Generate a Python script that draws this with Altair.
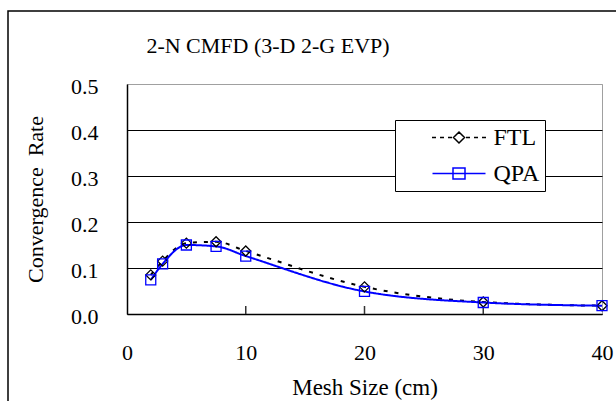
import altair as alt
import pandas as pd

# Convergence rate of two-node CMFD versus mesh size
mesh_size = [2, 3, 5, 7.5, 10, 20, 30, 40]
ftl_rate = [0.085, 0.115, 0.154, 0.157, 0.137, 0.059, 0.026, 0.018]
qpa_rate = [0.074, 0.109, 0.150, 0.147, 0.126, 0.049, 0.025, 0.018]
series_names = ["FTL", "QPA"]
series_colors = ["#000000", "#0000ff"]
x_ticks = [0, 10, 20, 30, 40]
y_ticks = [0.0, 0.1, 0.2, 0.3, 0.4, 0.5]
inner_ticks = [10, 20, 30]

rows = []
for name, vals in zip(series_names, [ftl_rate, qpa_rate]):
    for m, v in zip(mesh_size, vals):
        rows.append({"series": name, "mesh": m, "rate": v})
df = pd.DataFrame(rows)

FONT = "Liberation Serif"
W, H = 475, 230

x_scale = alt.Scale(domain=[0, 40], nice=False)
y_scale = alt.Scale(domain=[0, 0.5], nice=False)
color_scale = alt.Scale(domain=series_names, range=series_colors)

# legend glyphs: dashed line through a diamond, solid line through a square
ftl_glyph = ("M-2.7,0H-2.3M-1.9,0H-1.5M-1.1,0H-0.7M0.7,0H1.1M1.5,0H1.9M2.3,0H2.7"
             "M-0.55,0L0,-0.55L0.55,0L0,0.55Z")
qpa_glyph = "M-2.65,0H2.65M-0.6,-0.55H0.6V0.55H-0.6Z"

x_axis = alt.Axis(
    values=x_ticks, ticks=False, tickSize=0, grid=False,
    labelPadding=38, labelBaseline="middle", labelFlush=False, labelOverlap=False,
    labelFont=FONT, labelFontSize=22, labelColor="black",
    domainColor="black", domainWidth=1.5,
    title="Mesh Size (cm)", titleFont=FONT, titleFontSize=23, titleFontWeight="normal",
    titleColor="black", titleX=W / 2, titleY=73, titleBaseline="middle", titleAlign="center",
)
y_axis = alt.Axis(
    values=y_ticks, format=".1f", ticks=False, tickSize=0,
    grid=True, gridWidth=1,
    gridColor={"condition": {"test": "datum.value >= 0.5", "value": "#a0a0a0"}, "value": "black"},
    labelPadding=29, labelBaseline="middle", labelOffset=2,
    labelFont=FONT, labelFontSize=22, labelColor="black",
    domainColor="black", domainWidth=1.5,
    title="Convergence\u00a0\u00a0Rate", titleFont=FONT, titleFontSize=22, titleFontWeight="normal",
    titleColor="black", titleAngle=270, titleX=-92, titleY=H / 2,
    titleBaseline="middle", titleAlign="center",
)

x_enc = alt.X("mesh:Q", scale=x_scale, axis=x_axis)
y_enc = alt.Y("rate:Q", scale=y_scale, axis=y_axis)

legend = alt.Legend(
    title=None, orient="none", legendX=268, legendY=36,
    padding=5.5, rowPadding=12, strokeColor="black", fillColor="white",
    symbolSize=400, symbolOffset=46.5, labelOffset=22.5, symbolStrokeWidth=1.5,
    labelFont=FONT, labelFontSize=24, labelColor="black",
    labelExpr="datum.label + '        '",
)

lines = alt.Chart(df).mark_line(interpolate="monotone", strokeWidth=2).encode(
    x=x_enc,
    y=y_enc,
    color=alt.Color("series:N", scale=color_scale, legend=None),
    strokeDash=alt.StrokeDash("series:N",
                              scale=alt.Scale(domain=series_names, range=[[4, 7], [1, 0]]),
                              legend=None),
)

points = alt.Chart(df).mark_point(filled=False, size=100, strokeWidth=1.3, opacity=1).encode(
    x=x_enc,
    y=y_enc,
    color=alt.Color("series:N", scale=color_scale, legend=None),
    shape=alt.Shape("series:N", scale=alt.Scale(domain=series_names, range=["diamond", "square"]),
                    legend=None),
)

# key layer: carries only the legend (line + marker glyph per series)
key = alt.Chart(df).transform_filter("false").mark_point(
    filled=False, strokeWidth=1.5, opacity=1
).encode(
    x=alt.X("mesh:Q", scale=x_scale),
    y=alt.Y("rate:Q", scale=y_scale),
    color=alt.Color("series:N", scale=color_scale, legend=legend),
    shape=alt.Shape("series:N", scale=alt.Scale(domain=series_names, range=[ftl_glyph, qpa_glyph]),
                    legend=legend),
)

# short inward tick marks on the x axis
tick_df = pd.DataFrame({"mesh": inner_ticks})
inner = alt.Chart(tick_df).mark_rule(color="#333333", strokeWidth=1.5).encode(
    x=alt.X("mesh:Q", scale=x_scale),
    y=alt.value(H),
    y2=alt.value(H - 8),
)

# chart-area frame
frame = alt.Chart(alt.Data(values=[{}])).mark_rect(
    fill=None, stroke="black", strokeWidth=1.5
).encode(
    x=alt.value(-119), x2=alt.value(500),
    y=alt.value(-73), y2=alt.value(330),
)

chart = alt.layer(frame, inner, lines, points, key).resolve_scale(
    shape="independent", color="independent"
).properties(
    width=W,
    height=H,
    title=alt.Title(
        "2-N CMFD (3-D 2-G EVP)", font=FONT, fontSize=22, fontWeight="normal",
        color="black", anchor="middle", frame="group", dx=-96.5,
        baseline="middle", offset=-58,
    ),
    padding={"left": 127, "top": 84, "right": 14, "bottom": 87},
    autosize=alt.AutoSizeParams(type="none"),
    background="white",
).configure_view(stroke="#a0a0a0", strokeWidth=1)

chart.save("out.html", embed_options={"renderer": "svg", "actions": False})
